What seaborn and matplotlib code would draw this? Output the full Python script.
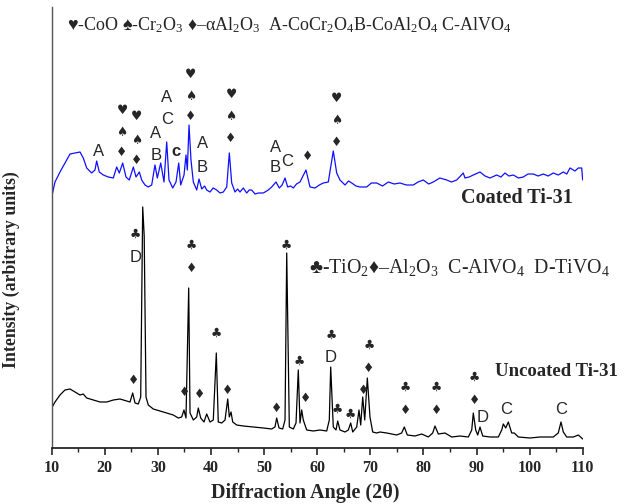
import numpy as np
import pandas as pd
import matplotlib
matplotlib.use("Agg")
import matplotlib.pyplot as plt
import seaborn as sns

# Coated Ti-31 trace (2theta, intensity a.u.)
coated_angle = [10.0, 10.62, 11.56, 12.50, 13.45, 14.39, 15.33, 15.95, 16.59, 17.53,
                18.15, 18.47, 18.96, 19.72, 20.66, 21.60, 22.24, 22.73, 23.37, 23.99,
                24.61, 25.37, 25.88, 26.50, 26.95, 27.57, 28.19, 28.83, 29.45, 29.89,
                30.53, 31.15, 31.66, 32.09, 32.79, 33.41, 33.92, 34.29, 34.92, 35.29,
                35.54, 35.86, 36.23, 36.67, 37.31, 37.74, 38.25, 38.80, 39.19, 39.81,
                40.40, 41.07, 41.70, 42.32, 42.96, 43.45, 43.90, 44.52, 45.00, 45.46,
                46.08, 46.72, 47.20, 47.66, 48.30, 48.91, 49.85, 50.79, 51.43, 52.24,
                52.86, 53.40, 53.94, 54.44, 55.00, 55.50, 56.10, 56.76, 57.89, 58.64,
                59.59, 60.40, 61.15, 62.09, 63.03, 63.67, 64.29, 65.24, 65.90, 66.50,
                67.30, 68.06, 69.32, 70.20, 71.21, 72.30, 73.39, 74.50, 75.59, 76.80,
                78.10, 79.00, 79.98, 81.00, 81.86, 83.10, 84.39, 85.30, 86.27, 87.51,
                87.83, 88.60, 89.40, 90.66, 91.60, 92.54, 93.80, 94.60, 95.37, 96.10,
                96.93, 97.90, 98.81, 99.70, 100.70, 101.60, 102.58, 103.50, 104.46, 105.40,
                106.35, 107.00, 107.61, 108.55, 109.17, 109.81, 110.0]
coated_int = [251, 266, 276, 285, 294, 295, 296, 290, 280, 275,
              278, 287, 276, 273, 271, 270, 281, 275, 285, 271,
              268, 281, 271, 276, 268, 263, 261, 263, 283, 270,
              285, 266, 306, 268, 260, 266, 285, 263, 273, 293,
              278, 323, 288, 266, 258, 269, 259, 262, 258, 256,
              260, 258, 255, 256, 261, 295, 265, 256, 259, 256,
              260, 255, 258, 258, 254, 255, 255, 258, 261, 266,
              260, 263, 270, 261, 262, 260, 264, 266, 278, 261,
              260, 263, 265, 266, 297, 275, 268, 263, 267, 265,
              262, 261, 261, 265, 265, 262, 266, 264, 265, 263,
              263, 266, 268, 264, 266, 270, 268, 266, 268, 275,
              270, 271, 273, 276, 272, 270, 273, 271, 275, 272,
              273, 270, 271, 274, 274, 272, 274, 272, 275, 273,
              276, 274, 280, 277, 280, 280, 268]

# Uncoated Ti-31 trace
uncoated_angle = [10.0, 10.62, 11.56, 12.50, 13.45, 14.39, 15.33, 15.95, 16.59, 17.83,
                  19.10, 20.36, 21.60, 22.86, 24.12, 24.75, 25.25, 25.69, 26.31, 26.76,
                  27.14, 27.42, 27.76, 28.19, 29.13, 30.40, 31.66, 32.90, 33.84, 34.48,
                  34.91, 35.29, 35.80, 36.05, 36.67, 37.31, 37.61, 38.06, 38.68, 39.19,
                  39.81, 40.43, 41.00, 41.37, 42.02, 42.64, 43.15, 43.45, 43.77, 44.09,
                  44.84, 46.08, 47.97, 49.85, 51.43, 52.05, 52.37, 52.81, 53.50, 53.94,
                  54.26, 54.75, 55.50, 56.01, 56.44, 56.76, 57.08, 57.38, 58.02, 59.27,
                  60.53, 61.79, 62.28, 62.54, 63.03, 63.54, 63.86, 64.29, 65.24, 65.86,
                  66.31, 66.69, 67.44, 67.87, 68.19, 68.57, 68.95, 69.44, 69.94, 70.45,
                  71.21, 71.83, 73.09, 74.97, 75.91, 76.40, 76.97, 78.42, 79.68, 80.92,
                  81.75, 82.18, 82.81, 84.07, 85.33, 86.89, 88.46, 89.10, 89.40, 89.85,
                  90.23, 90.66, 91.17, 92.54, 94.11, 94.75, 95.05, 95.50, 95.99, 96.63,
                  97.12, 97.87, 100.07, 101.96, 104.46, 105.40, 105.91, 106.35, 106.99, 108.24,
                  109.18, 110.0]
uncoated_int = [40, 46, 53, 58, 59, 56, 53, 54, 50, 48,
                46, 46, 48, 49, 47, 46, 55, 45, 44, 51,
                241, 212, 51, 43, 39, 37, 35, 33, 30, 31,
                38, 30, 160, 35, 28, 31, 40, 30, 26, 34,
                26, 28, 95, 26, 25, 28, 49, 31, 36, 26,
                23, 22, 21, 20, 19, 21, 30, 20, 19, 28,
                195, 21, 19, 25, 78, 25, 38, 28, 18, 17,
                18, 17, 28, 81, 21, 18, 27, 18, 16, 18,
                25, 16, 21, 38, 23, 51, 28, 70, 31, 16,
                15, 16, 15, 13, 15, 21, 13, 12, 14, 11,
                15, 22, 14, 15, 11, 12, 11, 18, 35, 18,
                13, 21, 12, 11, 11, 18, 24, 20, 26, 15,
                15, 11, 10, 11, 11, 15, 26, 16, 11, 11,
                13, 9]

# phase markers on the coated pattern
coated_mark_angle = [18.78, 23.24, 23.24, 23.24, 26.0, 26.0, 26.0, 29.64, 29.64,
                     31.7, 31.7, 33.4, 36.23, 36.23, 36.23, 38.43, 38.43,
                     43.77, 43.77, 43.77, 52.11, 52.11, 54.37, 58.21,
                     63.67, 63.67, 63.67]
coated_mark_level = [296, 337, 316, 295, 331, 308, 287, 315, 293,
                     351, 328, 296, 374, 351, 331, 305, 281,
                     353, 332, 310, 301, 280, 287, 292,
                     350, 327, 306]
coated_mark_text = ["A", "♥", "♠", "♦", "♥", "♠", "♦", "A", "B",
                    "A", "C", "c", "♥", "♠", "♦", "A", "B",
                    "♥", "♠", "♦", "A", "B", "C", "♦",
                    "♥", "♠", "♦"]

# phase markers on the uncoated pattern
uncoated_mark_angle = [25.36, 25.76, 25.76, 34.97, 36.36, 36.36, 37.93, 40.94, 43.15,
                       52.37, 54.26, 56.63, 57.89, 62.6, 62.6, 63.86, 66.31, 68.76,
                       69.75, 69.75, 76.67, 76.67, 82.45, 82.45, 89.58, 89.58,
                       91.09, 95.5, 105.9]
uncoated_mark_level = [67, 214, 191, 55, 203, 179, 53, 115, 58,
                       40, 203, 87, 49, 113, 91, 39, 34, 58,
                       103, 80, 61, 37, 61, 37, 71, 48,
                       30, 39, 39]
uncoated_mark_text = ["♦", "♣", "D", "♦", "♣", "♦", "♦", "♣", "♦",
                      "♦", "♣", "♣", "♦", "♣", "D", "♣", "♣", "♦",
                      "♣", "♦", "♣", "♦", "♣", "♦", "♣", "♦",
                      "D", "C", "C"]

x_ticks = [10, 20, 30, 40, 50, 60, 70, 80, 90, 100, 110]

sns.set_style("ticks")
plt.rcParams['font.family'] = ['Liberation Serif', 'DejaVu Sans']
plt.rcParams['mathtext.fontset'] = 'custom'
plt.rcParams['mathtext.rm'] = 'Liberation Serif'
plt.rcParams['mathtext.it'] = 'Liberation Serif:italic'
plt.rcParams['mathtext.bf'] = 'Liberation Serif:bold'

fig = plt.figure(figsize=(6.32, 5.04), dpi=100)
ax = fig.add_axes([51.7 / 632, 56 / 504, 531 / 632, 441 / 504])

sns.lineplot(x=coated_angle, y=coated_int, color='#1010ff', lw=0.9,
             estimator=None, sort=False, ax=ax)
sns.lineplot(x=uncoated_angle, y=uncoated_int, color='black', lw=0.9,
             estimator=None, sort=False, ax=ax)

sym_font = ['DejaVu Sans']
let_font = ['Liberation Sans']
for a, lv, t in zip(coated_mark_angle + uncoated_mark_angle,
                    coated_mark_level + uncoated_mark_level,
                    coated_mark_text + uncoated_mark_text):
    if t in "♥♠♦♣":
        ax.text(a, lv, t, ha='center', va='center', fontsize=9, family=sym_font)
    elif t == "c":
        ax.text(a, lv, t, ha='center', va='center', fontsize=12,
                family=let_font, fontweight='bold')
    else:
        ax.text(a, lv, t, ha='center', va='center', fontsize=12, family=let_font)

ax.text(12.88, 423, "♥-CoO ♠-Cr$_2$O$_3$ ♦–αAl$_2$O$_3$  A-CoCr$_2$O$_4$B-CoAl$_2$O$_4$ C-AlVO$_4$",
        ha='left', va='center', fontsize=13)
ax.text(58.46, 181, "♣-TiO$_2$♦–Al$_2$O$_3$  C-AlVO$_4$  D-TiVO$_4$",
        ha='left', va='center', fontsize=14.3)
ax.text(87.16, 250, "Coated Ti-31", ha='left', va='center', fontsize=14.5, fontweight='bold')
ax.text(93.48, 76, "Uncoated Ti-31", ha='left', va='center', fontsize=13.5, fontweight='bold')

ax.set_xlim(10, 110)
ax.set_ylim(0, 441)
ax.set_xticks(x_ticks)
ax.set_xticks(np.arange(15, 110, 10), minor=True)
ax.set_yticks([])
ax.tick_params(axis='x', which='major', direction='out', length=5, width=1.2,
               labelsize=11.5, pad=4)
ax.tick_params(axis='x', which='minor', direction='out', length=3, width=1)
for lab in ax.get_xticklabels():
    lab.set_fontweight('bold')

ax.set_xlabel("Diffraction Angle (2θ)", fontsize=14.5, fontweight='bold')
ax.xaxis.set_label_coords(0.478, -0.08)
ax.set_ylabel("Intensity (arbitrary units)", fontsize=12.8, fontweight='bold')
ax.yaxis.set_label_coords(-0.06, 0.405)

ax.spines['top'].set_visible(False)
ax.spines['right'].set_visible(False)
ax.spines['left'].set_color('#555555')
ax.spines['left'].set_linewidth(1.0)
ax.spines['bottom'].set_linewidth(1.3)

plt.savefig("out.png", dpi=100)
